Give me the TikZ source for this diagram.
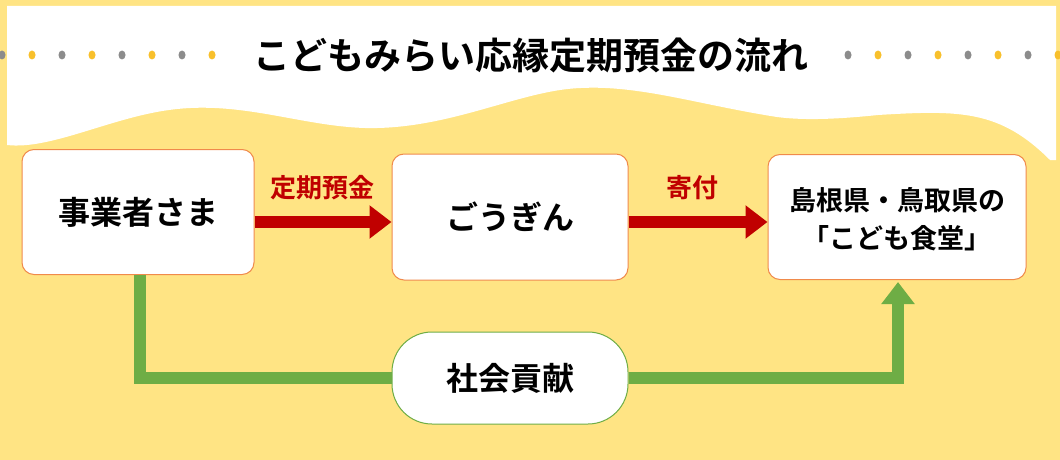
\documentclass[tikz,border=0pt]{standalone}
\usepackage{fontspec}
\newfontfamily\jp{Noto Sans CJK JP}[BoldFont={Noto Sans CJK JP Bold}]
\usetikzlibrary{arrows.meta}
\definecolor{bgy}{HTML}{FFE484}
\definecolor{obord}{HTML}{F08A4B}
\definecolor{gbord}{HTML}{6EAD45}
\definecolor{rd}{HTML}{C00000}
\definecolor{dotg}{HTML}{8C8C8C}
\definecolor{doty}{HTML}{F8C02C}
\begin{document}
\begin{tikzpicture}[x=1pt,y=-1pt,
  box/.style={draw=obord,line width=1pt,fill=white,rounded corners=12pt,inner sep=0},
  lbl/.style={font=\jp\bfseries\fontsize{32}{36}\selectfont},
  rarrow/.style={draw=rd,line width=12pt,-{Triangle[length=22pt,width=32pt]}},
  garrow/.style={draw=gbord,line width=12pt},
  rlab/.style={text=rd,font=\jp\bfseries\fontsize{26}{30}\selectfont}]
\useasboundingbox (0,0) rectangle (1060,460);
\fill[bgy] (0,0) rectangle (1060,460);
\fill[white] (7,6) -- (1056,6) -- (1056,160) -- (1050,160)
  .. controls (1000,110) and (960,110) .. (878,115)
  .. controls (830,120) and (800,120) .. (777,117)
  .. controls (700,105) and (640,85) .. (581,88)
  .. controls (520,90) and (450,130) .. (365,128)
  .. controls (300,126) and (240,100) .. (169,110)
  .. controls (110,118) and (50,150) .. (7,145) -- cycle;
\foreach \i in {0,...,7}{
  \pgfmathsetmacro\xl{2+30*\i}
  \pgfmathsetmacro\xr{848+30*\i}
  \ifodd\i \def\c{doty}\else\def\c{dotg}\fi
  \fill[\c] (\xl,55) ellipse (3.5 and 4.5);
  \fill[\c] (\xr,55) ellipse (3.5 and 4.5);
}
\node[font=\jp\bfseries\fontsize{37}{40}\selectfont] (title) at (531,55) {こどもみらい応縁定期預金の流れ};
\node[box,minimum width=232pt,minimum height=125pt] (a) at (138,212) {};
\node[lbl] at (a) {事業者さま};
\node[box,minimum width=236pt,minimum height=126pt] (b) at (510,217) {};
\node[lbl] at (b) {ごうぎん};
\node[box,minimum width=258pt,minimum height=125pt] (c) at (897,217) {};
\node[align=center,font=\jp\bfseries\fontsize{27}{38}\selectfont] at (897,219) {島根県・鳥取県の\\「こども食堂」};
\node[draw=gbord,line width=1pt,fill=white,rounded corners=40pt,minimum width=236pt,minimum height=92pt] (d) at (510,378) {};
\node[lbl] at (d) {社会貢献};
\coordinate (g1) at (140,378);
\coordinate (g2) at (898,378);
\draw[garrow] (140,275) -- (g1) -- (d.west);
\draw[garrow,-{Triangle[length=22pt,width=32pt]}] (d.east) -- (g2) -- (898,282);
\draw[rarrow] (a.east |- 0,222) -- (b.west |- 0,222);
\draw[rarrow] (b.east |- 0,222) -- (c.west |- 0,222);
\node[rlab] at (322,188) {定期預金};
\node[rlab] at (692,188) {寄付};
\end{tikzpicture}
\end{document}
